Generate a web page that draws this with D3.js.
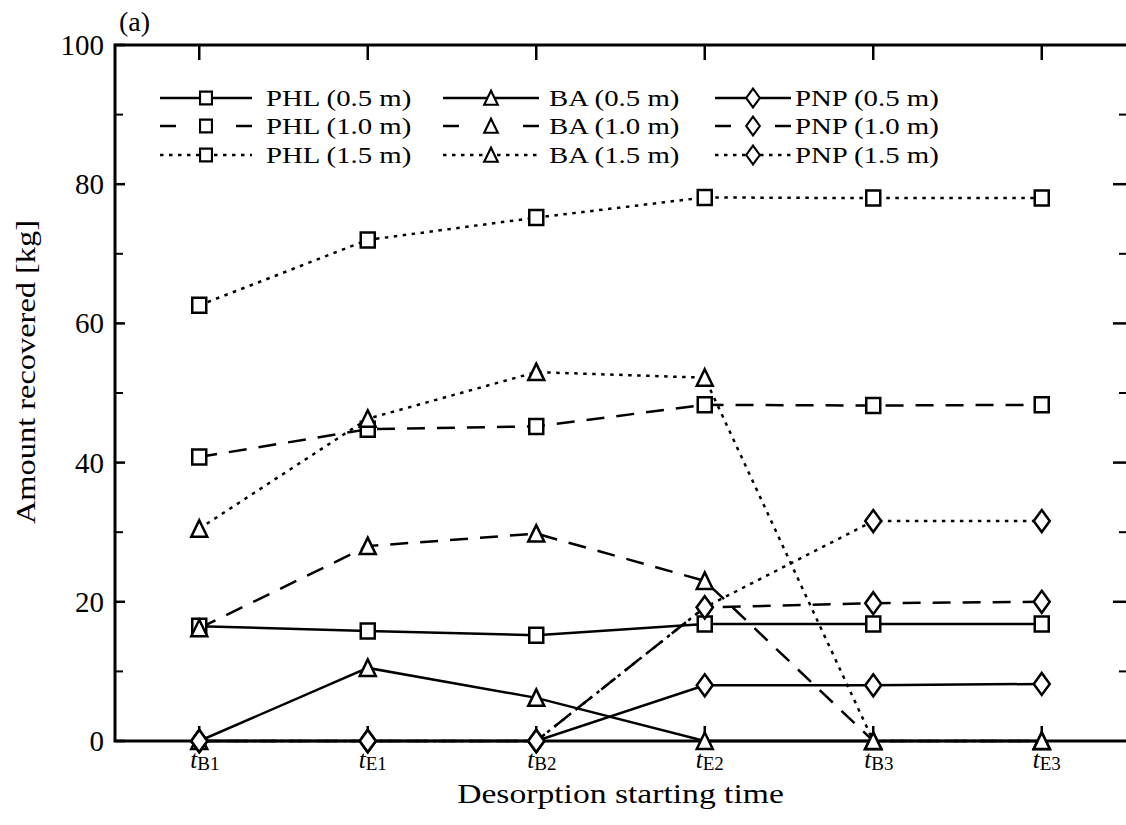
<!DOCTYPE html>
<html>
<head>
<meta charset="utf-8">
<script src="https://cdn.jsdelivr.net/npm/d3@7"></script>
<style>
  body { margin: 0; background: #fff; }
  svg text { font-family: "Liberation Serif", "Times New Roman", serif; fill: #000; }
</style>
</head>
<body>
<svg width="1126" height="825"></svg>
<script>
var svg = d3.select("svg");

// categories (desorption starting time) and tick labels
var categories = ["B1", "E1", "B2", "E2", "B3", "E3"];
var yTicks = [0, 20, 40, 60, 80, 100];

// amount recovered [kg]
var phl05 = [16.5, 15.8, 15.2, 16.8, 16.8, 16.8];
var phl10 = [40.8, 44.8, 45.2, 48.3, 48.2, 48.3];
var phl15 = [62.6, 72.0, 75.2, 78.1, 78.0, 78.0];
var ba05  = [0, 10.5, 6.2, 0, 0, 0];
var ba10  = [16.2, 28.0, 29.8, 23.0, 0, 0];
var ba15  = [30.5, 46.3, 53.0, 52.2, 0, 0];
var pnp05 = [0, 0, 0, 8.0, 8.0, 8.2];
var pnp10 = [0, 0, 0, 19.2, 19.8, 20.0];
var pnp15 = [0, 0, 0, 19.2, 31.6, 31.6];

var series = [
  {name: "PHL (0.5 m)", values: phl05, marker: "square",   style: "solid"},
  {name: "PHL (1.0 m)", values: phl10, marker: "square",   style: "dash"},
  {name: "PHL (1.5 m)", values: phl15, marker: "square",   style: "dot"},
  {name: "BA (0.5 m)",  values: ba05,  marker: "triangle", style: "solid"},
  {name: "BA (1.0 m)",  values: ba10,  marker: "triangle", style: "dash"},
  {name: "BA (1.5 m)",  values: ba15,  marker: "triangle", style: "dot"},
  {name: "PNP (0.5 m)", values: pnp05, marker: "diamond",  style: "solid"},
  {name: "PNP (1.0 m)", values: pnp10, marker: "diamond",  style: "dash"},
  {name: "PNP (1.5 m)", values: pnp15, marker: "diamond",  style: "dot"}
];
var dashes = {solid: null, dash: "18,12", dot: "3.5,5.5"};

// plot frame
var pl = 115, pr = 1126, pt = 45, pb = 741;

var x = d3.scalePoint().domain(categories).range([pl, pr]).padding(0.5);
var y = d3.scaleLinear().domain([0, 100]).range([pb, pt]);

function markerPath(type) {
  if (type == "square") return "M-7,-7.5H7V7.5H-7Z";
  if (type == "triangle") return "M0,-8.5L8,8H-8Z";
  return "M0,-11L8,0L0,11L-8,0Z";
}

// stretch text horizontally (the original face is wider than Liberation Serif)
function widen(sel, k) {
  sel.each(function() {
    var w = this.getComputedTextLength();
    d3.select(this).attr("textLength", w * k).attr("lengthAdjust", "spacingAndGlyphs");
  });
}

var g = svg.append("g");

// frame lines
g.append("path")
  .attr("d", "M" + pr + "," + pt + "H" + pl + "V" + pb + "H" + pr)
  .attr("fill", "none").attr("stroke", "#000").attr("stroke-width", 3);

// ticks on the y axis (inward), left and right
var minor = d3.range(10, 100, 20);
g.selectAll(".yl").data(yTicks).enter().append("line")
  .attr("x1", pl).attr("x2", pl + 10)
  .attr("y1", function(d) { return y(d); }).attr("y2", function(d) { return y(d); })
  .attr("stroke", "#000").attr("stroke-width", 2.5);
g.selectAll(".ylm").data(minor).enter().append("line")
  .attr("x1", pl).attr("x2", pl + 8)
  .attr("y1", function(d) { return y(d); }).attr("y2", function(d) { return y(d); })
  .attr("stroke", "#000").attr("stroke-width", 2);
g.selectAll(".yr").data(yTicks.slice(1, 5)).enter().append("line")
  .attr("x1", pr - 13).attr("x2", pr)
  .attr("y1", function(d) { return y(d); }).attr("y2", function(d) { return y(d); })
  .attr("stroke", "#000").attr("stroke-width", 2.5);
g.selectAll(".yrm").data(minor).enter().append("line")
  .attr("x1", pr - 7).attr("x2", pr)
  .attr("y1", function(d) { return y(d); }).attr("y2", function(d) { return y(d); })
  .attr("stroke", "#000").attr("stroke-width", 2);

// ticks on x (top down, bottom up)
g.selectAll(".xt").data(categories).enter().append("line")
  .attr("x1", function(d) { return x(d); }).attr("x2", function(d) { return x(d); })
  .attr("y1", pt).attr("y2", pt + 15)
  .attr("stroke", "#000").attr("stroke-width", 2.5);
g.selectAll(".xb").data(categories).enter().append("line")
  .attr("x1", function(d) { return x(d); }).attr("x2", function(d) { return x(d); })
  .attr("y1", pb).attr("y2", pb - 15)
  .attr("stroke", "#000").attr("stroke-width", 2.5);

// y tick labels
g.selectAll(".ylab").data(yTicks).enter().append("text")
  .attr("x", pl - 11).attr("y", function(d) { return y(d) + 10; })
  .attr("text-anchor", "end").attr("font-size", 29)
  .text(function(d) { return d; });

// x tick labels: italic t with subscript
var xl = g.selectAll(".xlab").data(categories).enter().append("text")
  .attr("x", function(d) { return x(d) - 9; }).attr("y", pb + 27)
  .attr("font-size", 25);
xl.append("tspan").attr("font-style", "italic").text("t");
xl.append("tspan").attr("font-size", 19).attr("dy", 2).text(function(d) { return d; });

// axis titles
svg.append("text").attr("x", (pl + pr) / 2).attr("y", 803)
  .attr("text-anchor", "middle").attr("font-size", 28).text("Desorption starting time")
  .call(widen, 1.2);
svg.append("text").attr("transform", "translate(35,372) rotate(-90)")
  .attr("text-anchor", "middle").attr("font-size", 27).text("Amount recovered [kg]")
  .call(widen, 1.2);
svg.append("text").attr("x", 119).attr("y", 31).attr("font-size", 28).text("(a)");

// lines
var line = d3.line()
  .x(function(d, i) { return x(categories[i]); })
  .y(function(d) { return y(d); });

g.selectAll(".series").data(series).enter().append("path")
  .attr("d", function(s) { return line(s.values); })
  .attr("fill", "none").attr("stroke", "#000").attr("stroke-width", 2.5)
  .attr("stroke-dasharray", function(s) { return dashes[s.style]; });

// markers
series.forEach(function(s) {
  g.selectAll(null).data(s.values).enter().append("path")
    .attr("d", markerPath(s.marker))
    .attr("transform", function(d, i) { return "translate(" + x(categories[i]) + "," + y(d) + ")"; })
    .attr("fill", "#fff").attr("stroke", "#000").attr("stroke-width", 2.5);
});

// legend, 3 columns by 3 rows
var legX = [160, 443, 715], legW = [92, 96, 76], legT = [266, 549, 795];
var legY = [98, 126, 155];
var leg = g.selectAll(".leg").data(series).enter().append("g")
  .attr("transform", function(s, i) {
    return "translate(0," + legY[i % 3] + ")";
  });
leg.each(function(s, i) {
  var c = Math.floor(i / 3), el = d3.select(this);
  var x0 = legX[c], x1 = legX[c] + legW[c];
  if (s.style == "dash") {
    el.append("line").attr("x1", x0).attr("x2", x0 + 16);
    el.append("line").attr("x1", x1 - 16).attr("x2", x1);
  } else {
    el.append("line").attr("x1", x0).attr("x2", x1)
      .attr("stroke-dasharray", dashes[s.style]);
  }
  el.selectAll("line").attr("y1", 0).attr("y2", 0)
    .attr("stroke", "#000").attr("stroke-width", 2.5);
  el.append("path").attr("d", markerPath(s.marker))
    .attr("transform", "translate(" + (x0 + legW[c] / 2) + ",0) scale(0.85)")
    .attr("fill", "#fff").attr("stroke", "#000").attr("stroke-width", 2.5);
  el.append("text").attr("x", legT[c]).attr("y", 8).attr("font-size", 24)
    .text(s.name).call(widen, 1.2);
});
</script>
</body>
</html>
